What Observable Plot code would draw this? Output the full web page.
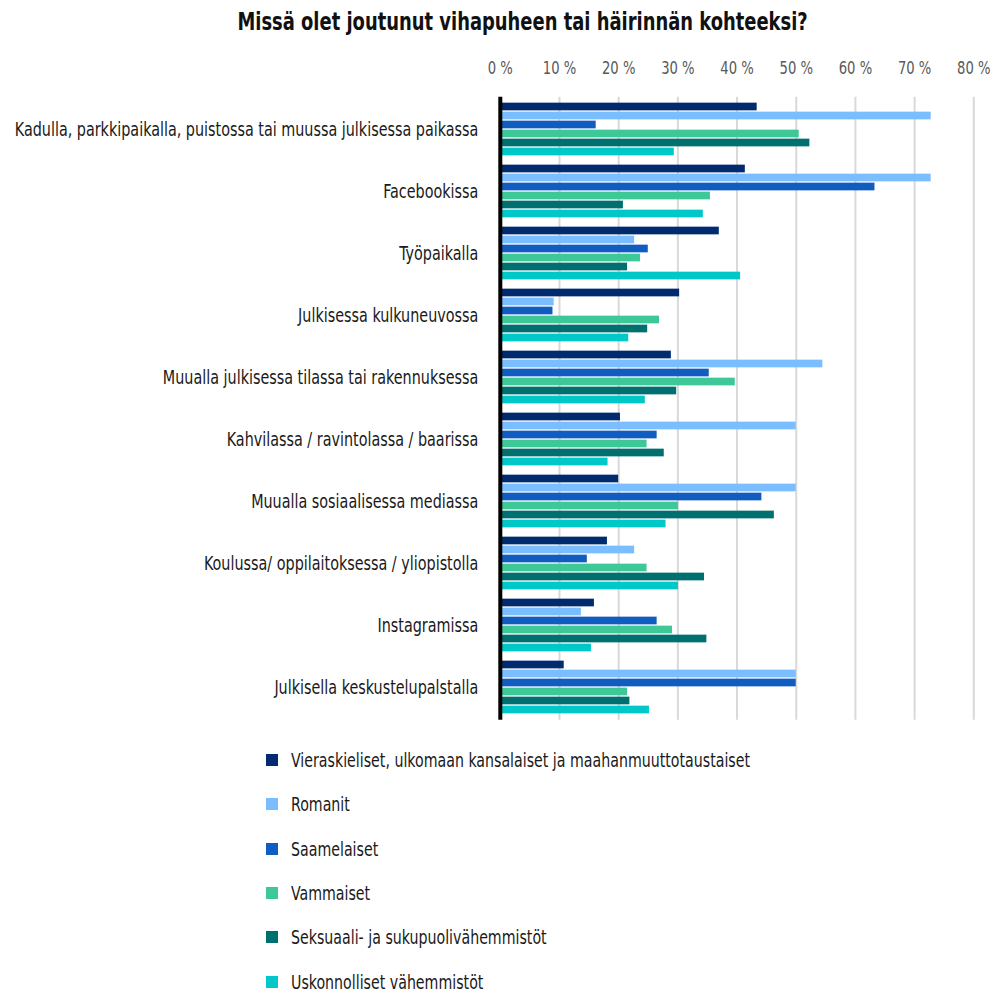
<!DOCTYPE html>
<html>
<head>
<meta charset="utf-8">
<script src="https://cdn.jsdelivr.net/npm/d3@7"></script>
<script src="https://cdn.jsdelivr.net/npm/@observablehq/plot@0.6"></script>
<style>
  html, body { margin: 0; padding: 0; background: #fff; }
  body { width: 995px; height: 992px; position: relative; overflow: hidden;
         font-family: "DejaVu Sans Condensed", "Liberation Sans Narrow", sans-serif; }
  #title { position: absolute; top: 0; left: 0; width: 995px; height: 44px; line-height: 44px;
           box-sizing: border-box; padding-left: 50px; text-align: center;
           font-weight: bold; font-size: 24px; color: #111; }
  #title span { display: inline-block; transform: scaleX(0.83); transform-origin: center center; }
  #chart { position: absolute; top: 40px; left: 0; }
  #legend { position: absolute; top: 738px; left: 266px; }
  .item { height: 44.3px; display: flex; align-items: center; font-size: 19px; color: #1a1a1a; white-space: nowrap; }
  .item span { display: inline-block; transform: scaleX(0.83); transform-origin: left center; }
  .sw { width: 12px; height: 12px; margin-right: 13px; flex: none; }
</style>
</head>
<body>
<div id="title"><span>Missä olet joutunut vihapuheen tai häirinnän kohteeksi?</span></div>
<div id="chart"></div>
<div id="legend"></div>
<script>
const categories = [
  "Kadulla, parkkipaikalla, puistossa tai muussa julkisessa paikassa",
  "Facebookissa",
  "Työpaikalla",
  "Julkisessa kulkuneuvossa",
  "Muualla julkisessa tilassa tai rakennuksessa",
  "Kahvilassa / ravintolassa / baarissa",
  "Muualla sosiaalisessa mediassa",
  "Koulussa/ oppilaitoksessa / yliopistolla",
  "Instagramissa",
  "Julkisella keskustelupalstalla"
];
const series = [
  "Vieraskieliset, ulkomaan kansalaiset ja maahanmuuttotaustaiset",
  "Romanit",
  "Saamelaiset",
  "Vammaiset",
  "Seksuaali- ja sukupuolivähemmistöt",
  "Uskonnolliset vähemmistöt"
];
const colors = ["#002B6E", "#7ABEFF", "#115CC0", "#3EC797", "#006F6F", "#00C8C8"];
const xTicks = [0, 10, 20, 30, 40, 50, 60, 70, 80];

const vieraskieliset = [43.4, 41.4, 37.0, 30.3, 28.9, 20.3, 20.0, 18.1, 15.9, 10.8];
const romanit        = [72.8, 72.8, 22.7,  9.1, 54.5, 50.0, 50.0, 22.7, 13.7, 50.0];
const saamelaiset    = [16.2, 63.3, 25.0,  8.9, 35.3, 26.5, 44.2, 14.7, 26.5, 50.0];
const vammaiset      = [50.5, 35.5, 23.7, 26.9, 39.7, 24.8, 30.1, 24.8, 29.1, 21.5];
const seksuaali      = [52.3, 20.8, 21.5, 24.9, 29.8, 27.7, 46.3, 34.5, 34.9, 21.9];
const uskonnolliset  = [29.4, 34.3, 40.6, 21.7, 24.5, 18.2, 28.0, 30.1, 15.4, 25.2];

const seriesValues = [vieraskieliset, romanit, saamelaiset, vammaiset, seksuaali, uskonnolliset];

const rows = [];
series.forEach((s, i) => categories.forEach((c, j) => rows.push({series: s, category: c, value: seriesValues[i][j]})));

const W = 995, H = 690, MT = 56.85, MB = 10.15, ML = 499.8, MR = 21.7;
const step = (H - MT - MB) / categories.length;
const barH = 8, pitch = 9;
const inset = (step - barH) / 2;

const font = '"DejaVu Sans Condensed", "Liberation Sans Narrow", sans-serif';

const chart = Plot.plot({
  width: W, height: H,
  marginTop: MT, marginBottom: MB, marginLeft: ML, marginRight: MR,
  style: {fontFamily: font, fontSize: "19px", color: "#1a1a1a", background: "transparent", overflow: "visible"},
  x: {domain: [0, 80], ticks: xTicks, tickFormat: d => d + " %", axis: "top", tickSize: 0, tickPadding: 23, label: null},
  y: {domain: categories, padding: 0, tickSize: 0, tickPadding: 22, label: null},
  color: {domain: series, range: colors},
  marks: [
    Plot.ruleX(xTicks.filter(d => d > 0), {stroke: "#d9d9d9", strokeWidth: 2}),
    ...series.map((s, i) => Plot.barX(rows.filter(r => r.series === s), {
      x: "value", y: "category", fill: "series",
      insetTop: inset, insetBottom: inset, dy: (i - 2.5) * pitch
    })),
    Plot.ruleX([0], {stroke: "#000", strokeWidth: 4})
  ]
});
document.getElementById("chart").appendChild(chart);

function squeeze(sel, k) {
  sel.each(function () {
    const len = this.getComputedTextLength();
    if (len > 0) {
      this.setAttribute("textLength", (len * k).toFixed(2));
      this.setAttribute("lengthAdjust", "spacingAndGlyphs");
    }
  });
}

const svg = d3.select(chart);
svg.selectAll('g[aria-label^="x-axis"]').attr("fill", "#595959");
const xt = svg.selectAll('g[aria-label^="x-axis"] text')
  .attr("fill", "#595959")
  .style("font-size", "17px");
squeeze(xt, 0.86);
const yt = svg.selectAll('g[aria-label^="y-axis"] text').attr("fill", "#1a1a1a");
squeeze(yt, 0.84);

const legend = d3.select("#legend");
series.forEach((s, i) => {
  const it = legend.append("div").attr("class", "item");
  it.append("div").attr("class", "sw").style("background", colors[i]);
  it.append("span").text(s);
});
</script>
</body>
</html>
